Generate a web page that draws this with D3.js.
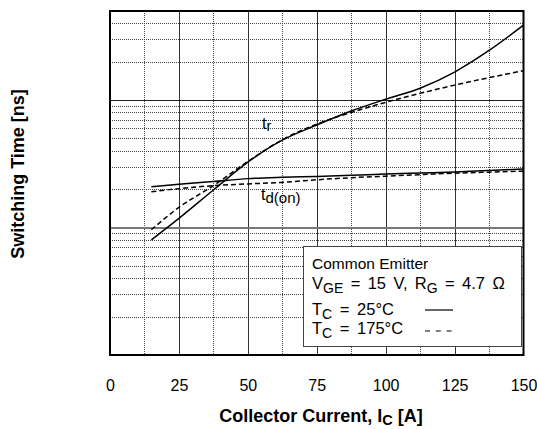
<!DOCTYPE html>
<html>
<head>
<meta charset="utf-8">
<script src="https://cdn.jsdelivr.net/npm/d3@7"></script>
<style>
  html, body { margin: 0; padding: 0; background: #fff; }
  svg { display: block; font-family: "Liberation Sans", Arial, Helvetica, sans-serif; }
</style>
</head>
<body>
<svg id="chart" width="537" height="429"></svg>
<script>
// Collector current sample points [A]
const current = [15, 25, 37.5, 50, 62.5, 75, 87.5, 100, 112.5, 125, 137.5, 150];
// Rise time tr [ns]
const trCold = [8.0, 11.8, 19.7, 32.6, 48.5, 63.7, 82, 101.5, 124, 166, 245, 387];
const trHot  = [9.6, 14.4, 21.3, 33.0, 48.8, 64.8, 80, 96, 113, 131, 150, 170];
// Turn-on delay time td(on) [ns]
const tdCold = [20.9, 21.9, 23.0, 24.2, 24.8, 25.2, 25.7, 26.3, 26.8, 27.3, 28.0, 28.8];
const tdHot  = [19.1, 20.2, 21.3, 22.0, 22.6, 23.7, 24.6, 25.3, 26.0, 26.7, 27.2, 27.7];

const xTicks = [0, 25, 50, 75, 100, 125, 150];
const xMinor = [12.5, 37.5, 62.5, 87.5, 112.5, 137.5];
const yDecades = [10, 100];
const yMinor = [2, 3, 4, 5, 6, 7, 8, 9, 20, 30, 40, 50, 60, 70, 80, 90, 200, 300, 400];

const svg = d3.select("#chart");
const L = 110, R = 523.5, T = 11, B = 355;
const x = d3.scaleLinear().domain([0, 150]).range([L, R]);
const y = d3.scaleLog().domain([1, 500]).range([B, T]);

svg.append("rect").attr("width", 537).attr("height", 429).attr("fill", "#fff");

const grid = svg.append("g").attr("shape-rendering", "crispEdges");
// dotted minor grid
grid.selectAll("line.ym").data(yMinor).join("line")
  .attr("x1", L).attr("x2", R)
  .attr("y1", d => Math.round(y(d)) + 0.5).attr("y2", d => Math.round(y(d)) + 0.5)
  .attr("stroke", "#444").attr("stroke-dasharray", "1,1");
grid.selectAll("line.xm").data(xMinor).join("line")
  .attr("y1", T).attr("y2", B)
  .attr("x1", d => Math.round(x(d)) + 0.5).attr("x2", d => Math.round(x(d)) + 0.5)
  .attr("stroke", "#444").attr("stroke-dasharray", "1,1");
// solid major grid
grid.selectAll("line.xM").data(xTicks.slice(1, -1)).join("line")
  .attr("y1", T).attr("y2", B)
  .attr("x1", d => Math.round(x(d)) + 0.5).attr("x2", d => Math.round(x(d)) + 0.5)
  .attr("stroke", "#333").attr("stroke-width", 1);
grid.selectAll("line.yM").data(yDecades).join("line")
  .attr("x1", L).attr("x2", R)
  .attr("y1", d => Math.round(y(d)) + (d === 10 ? 0 : 0.5))
  .attr("y2", d => Math.round(y(d)) + (d === 10 ? 0 : 0.5))
  .attr("stroke", d => d === 10 ? "#777" : "#222")
  .attr("stroke-width", d => d === 10 ? 2 : 1);

// curves
const line = d3.line().curve(d3.curveMonotoneX);
const series = [
  { v: trCold, dash: null },
  { v: trHot, dash: "5,3" },
  { v: tdCold, dash: null },
  { v: tdHot, dash: "5,3" }
];
svg.selectAll("path.curve").data(series).join("path")
  .attr("class", "curve")
  .attr("d", s => line(current.map((c, i) => [x(c), y(s.v[i])])))
  .attr("fill", "none").attr("stroke", "#000").attr("stroke-width", 1.5)
  .attr("stroke-dasharray", s => s.dash);

// frame
svg.append("rect").attr("x", L).attr("y", T).attr("width", R - L).attr("height", B - T)
  .attr("fill", "none").attr("stroke", "#000").attr("stroke-width", 2);

// x axis labels
const xAxis = d3.axisBottom(x).tickValues(xTicks).tickSize(0).tickPadding(25)
  .tickFormat(d3.format("d"));
const gx = svg.append("g").attr("transform", `translate(0,${B})`).call(xAxis);
gx.select(".domain").remove();
gx.selectAll("text").attr("font-size", 16).attr("fill", "#000")
  .attr("font-family", "'Liberation Sans', Arial, sans-serif");

// curve labels
const trLab = svg.append("text").attr("x", 262).attr("y", 129).attr("font-size", 16);
trLab.append("tspan").text("t");
trLab.append("tspan").attr("dy", 2).attr("font-size", 14.5).text("r");
const tdLab = svg.append("text").attr("x", 261).attr("y", 200).attr("font-size", 16);
tdLab.append("tspan").text("t");
tdLab.append("tspan").attr("dy", 3).attr("font-size", 15).text("d(on)");

// axis titles
const xt = svg.append("text").attr("x", 321).attr("y", 422).attr("text-anchor", "middle")
  .attr("font-size", 18).attr("font-weight", "bold");
xt.append("tspan").text("Collector Current, I");
xt.append("tspan").attr("dy", 3).attr("font-size", 14.5).text("C");
xt.append("tspan").attr("dy", -3).text(" [A]");

svg.append("text").attr("transform", "translate(24,174) rotate(-90)")
  .attr("text-anchor", "middle").attr("font-size", 18).attr("font-weight", "bold")
  .text("Switching Time [ns]");

// legend
const lg = svg.append("g");
lg.append("rect").attr("x", 303.5).attr("y", 246.5).attr("width", 218).attr("height", 100)
  .attr("fill", "#fff").attr("stroke", "#444").attr("stroke-width", 1);
const lx = 312, fs = 16.5, sub = 14;
lg.append("text").attr("x", lx).attr("y", 269).attr("font-size", 15.5).text("Common Emitter");
const l2 = lg.append("text").attr("x", lx).attr("y", 289).attr("font-size", fs)
  .attr("word-spacing", 2.8);
l2.append("tspan").text("V");
l2.append("tspan").attr("dy", 4).attr("font-size", sub).text("GE");
l2.append("tspan").attr("dy", -4).text(" = 15 V, R");
l2.append("tspan").attr("dy", 4).attr("font-size", sub).text("G");
l2.append("tspan").attr("dy", -4).text(" = 4.7 Ω");
const l3 = lg.append("text").attr("x", lx).attr("y", 315).attr("font-size", fs)
  .attr("word-spacing", 3);
l3.append("tspan").text("T");
l3.append("tspan").attr("dy", 4).attr("font-size", sub).text("C");
l3.append("tspan").attr("dy", -4).text(" = 25°C");
const l4 = lg.append("text").attr("x", lx).attr("y", 334).attr("font-size", fs)
  .attr("word-spacing", 3);
l4.append("tspan").text("T");
l4.append("tspan").attr("dy", 4).attr("font-size", sub).text("C");
l4.append("tspan").attr("dy", -4).text(" = 175°C");
lg.append("line").attr("x1", 425).attr("x2", 453).attr("y1", 310).attr("y2", 310)
  .attr("stroke", "#000").attr("stroke-width", 1.2);
lg.append("line").attr("x1", 425).attr("x2", 452).attr("y1", 331).attr("y2", 331)
  .attr("stroke", "#000").attr("stroke-width", 1.2).attr("stroke-dasharray", "5,5.8");
</script>
</body>
</html>
